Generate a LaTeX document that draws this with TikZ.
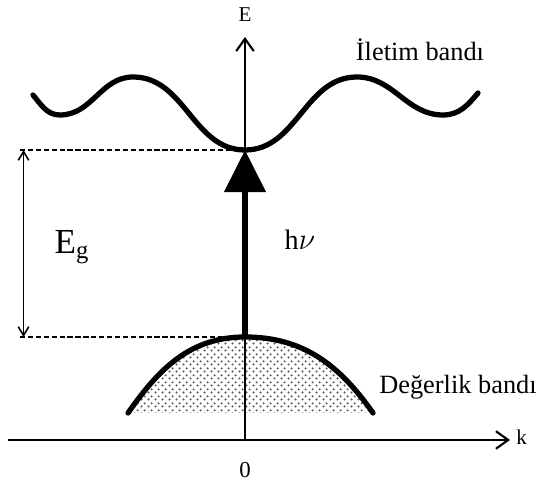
\documentclass[tikz,border=0pt]{standalone}
\usepackage{fontspec}
\setmainfont{Liberation Serif}
\usetikzlibrary{arrows.meta,patterns.meta}
\tikzdeclarepattern{
  name=vbdots,
  type=uncolored,
  bounding box={(0pt,0pt) and (4pt,4pt)},
  tile size={(4pt,4pt)},
  code={
    \pgfpathcircle{\pgfpoint{1pt}{1pt}}{0.75pt}
    \pgfpathcircle{\pgfpoint{3pt}{3pt}}{0.75pt}
    \pgfusepath{fill}
  }}

\begin{document}
\begin{tikzpicture}[x=0.02cm,y=0.02cm,
  lbl/.style={font=\fontsize{15}{17}\selectfont,inner sep=0pt},
  axlbl/.style={font=\fontsize{12}{14}\selectfont,inner sep=0pt},
  axis/.style={line width=1.2pt,-{Straight Barb[length=7pt,width=10pt,line width=1.2pt]}},
  band/.style={line width=3pt,line cap=round},
  guide/.style={line width=1.2pt,dash pattern=on 3pt off 1.5pt},
  gap/.style={line width=0.9pt,{Straight Barb[length=5pt,width=6pt]}-{Straight Barb[length=5pt,width=6pt]}},
  photon/.style={line width=3.8pt,-{Triangle[length=24pt,width=23pt]}}]
  \useasboundingbox (0,0) rectangle (538,492);
  \coordinate (origin) at (245,52);
  \coordinate (kstart) at (8,52);
  \coordinate (ktip) at (510,52);
  \coordinate (Etip) at (245,455);
  \coordinate (cbmin) at (245,342);
  \coordinate (vbmax) at (245,155);
  \coordinate (gaptop) at (20,342);
  \coordinate (gapbot) at (20,155);

  % valence band
  \fill[pattern=vbdots,pattern color=black!65] (128,79) to[out=55,in=180] (vbmax) to[out=0,in=125] (373,79) -- cycle;
  \draw[band] (128,79) to[out=55,in=180] (vbmax) to[out=0,in=125] (373,79);
  % conduction band
  \draw[band] (33,397) to[out=-50,in=180] (60,377) to[out=0,in=180] (133,415) to[out=0,in=180] (cbmin)
    to[out=0,in=180] (357,415) to[out=0,in=180] (443,377) to[out=0,in=230] (478,399);

  % axes
  \draw[axis] (kstart) -- (ktip);
  \draw[axis] (origin) -- (Etip);
  \node[axlbl] (Elbl) at (245,477) {E};
  \node[axlbl,anchor=west] (klbl) at (516,55) {k};
  \node[axlbl,font=\fontsize{13}{15}\selectfont] (zero) at (245,22) {0};

  % gap
  \draw[guide] (gaptop) -- (cbmin);
  \draw[guide] (gapbot) -- (vbmax);
  \draw[gap] ([xshift=2]gapbot) -- ([xshift=2]gaptop);
  \draw[photon] (vbmax) -- (cbmin);

  \node[font=\fontsize{20}{22}\selectfont] (eg) at (72,245) {E\textsubscript{g}};
  \node[font=\fontsize{16}{18}\selectfont] (hv) at (300,252) {h$\nu$};
  \node[lbl] (cblbl) at (420,442) {İletim bandı};
  \node[lbl] (vblbl) at (458,105) {Değerlik bandı};
\end{tikzpicture}
\end{document}
